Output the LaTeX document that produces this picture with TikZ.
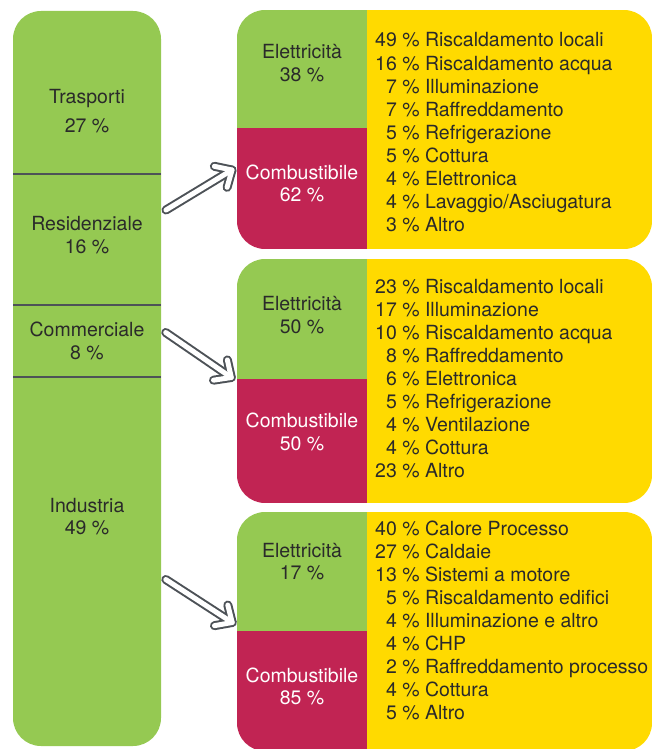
\documentclass[tikz,border=0pt]{standalone}
\usepackage{fontspec}
\setmainfont{TeX Gyre Heros}
\usetikzlibrary{calc}
\definecolor{sgreen}{HTML}{95C952}
\definecolor{sred}{HTML}{C12453}
\definecolor{syellow}{HTML}{FFDA00}
\definecolor{sline}{HTML}{4D5257}
\definecolor{stext}{HTML}{2A2A2A}
\newcommand\drawgroup[3]{%
  \begin{scope}
    \clip[rounded corners=28pt] (237,#1) rectangle (652,#3);
    \fill[sgreen] (237,#1) rectangle (367,#2);
    \fill[sred] (237,#2) rectangle (367,#3);
    \fill[syellow] (367,#1) rectangle (652,#3);
  \end{scope}}
\newcommand\fatarrow[2]{%
  \draw[arrowout] (#1) -- (#2);
  \draw[arrowout] ($(#2)!18pt!43:(#1)$) -- (#2) -- ($(#2)!18pt!-43:(#1)$);
  \draw[arrowin] (#1) -- (#2);
  \draw[arrowin] ($(#2)!18pt!43:(#1)$) -- (#2) -- ($(#2)!18pt!-43:(#1)$);}
\begin{document}
\begin{tikzpicture}[x=1pt,y=-1pt,
  lbl/.style={font=\fontsize{19.5}{23}\selectfont, text=stext, inner sep=0pt, anchor=base},
  wlbl/.style={lbl, text=white},
  item/.style={lbl, anchor=base west},
  arrowout/.style={line width=9pt, draw=sline, line cap=round, line join=round},
  arrowin/.style={line width=5pt, draw=white, line cap=round, line join=round},
  divider/.style={draw=sline, line width=2.5pt}
]
\useasboundingbox (0,0) rectangle (662,749);
% left column
\fill[sgreen, rounded corners=28pt] (13,11) rectangle (161,746);
\draw[divider] (13,174) -- (161,174);
\draw[divider] (13,305) -- (161,305);
\draw[divider] (13,377) -- (161,377);
\node[lbl] (trasp) at (87,103.5) {Trasporti};
\node[lbl] (traspv) at (87,132) {27 \%};
\node[lbl] (resid) at (87,230) {Residenziale};
\node[lbl] (residv) at (87,253) {16 \%};
\node[lbl] (comm) at (87,336) {Commerciale};
\node[lbl] (commv) at (87,359) {8 \%};
\node[lbl] (ind) at (87,512) {Industria};
\node[lbl] (indv) at (87,534.5) {49 \%};
% groups
\drawgroup{10}{128}{249}
\drawgroup{259}{379}{503}
\drawgroup{512}{631}{751}
\node[lbl] (e1) at (302,59) {Elettricità};
\node[lbl] (e1v) at (302,82) {38 \%};
\node[wlbl] (c1) at (302,179) {Combustibile};
\node[wlbl] (c1v) at (302,201.5) {62 \%};
\node[lbl] (e2) at (302,310.5) {Elettricità};
\node[lbl] (e2v) at (302,333) {50 \%};
\node[wlbl] (c2) at (302,427) {Combustibile};
\node[wlbl] (c2v) at (302,450) {50 \%};
\node[lbl] (e3) at (302,557) {Elettricità};
\node[lbl] (e3v) at (302,579.5) {17 \%};
\node[wlbl] (c3) at (302,682.5) {Combustibile};
\node[wlbl] (c3v) at (302,704.5) {85 \%};
% lists
\foreach \t [count=\i] in {49 \% Riscaldamento locali, 16 \% Riscaldamento acqua,
  \hphantom{0}7 \% Illuminazione, \hphantom{0}7 \% Raffreddamento,
  \hphantom{0}5 \% Refrigerazione, \hphantom{0}5 \% Cottura,
  \hphantom{0}4 \% Elettronica, \hphantom{0}4 \% Lavaggio/Asciugatura,
  \hphantom{0}3 \% Altro}
  \node[item] (ra\i) at (375,{47+23.1*(\i-1)}) {\t};
\foreach \t [count=\i] in {23 \% Riscaldamento locali, 17 \% Illuminazione,
  10 \% Riscaldamento acqua, \hphantom{0}8 \% Raffreddamento,
  \hphantom{0}6 \% Elettronica, \hphantom{0}5 \% Refrigerazione,
  \hphantom{0}4 \% Ventilazione, \hphantom{0}4 \% Cottura,
  23 \% Altro}
  \node[item] (rb\i) at (375,{293+23*(\i-1)}) {\t};
\foreach \t [count=\i] in {40 \% Calore Processo, 27 \% Caldaie,
  13 \% Sistemi a motore, \hphantom{0}5 \% Riscaldamento edifici,
  \hphantom{0}4 \% Illuminazione e altro, \hphantom{0}4 \% CHP,
  \hphantom{0}2 \% Raffreddamento processo, \hphantom{0}4 \% Cottura,
  \hphantom{0}5 \% Altro}
  \node[item] (rc\i) at (375,{535+23*(\i-1)}) {\t};
% arrows
\coordinate (a1s) at (166,210); \coordinate (a1t) at (232,170);
\coordinate (a2s) at (165.7,332.5); \coordinate (a2t) at (231.3,377.5);
\coordinate (a3s) at (165.8,579.5); \coordinate (a3t) at (232.2,622.5);
\fatarrow{a1s}{a1t}
\fatarrow{a2s}{a2t}
\fatarrow{a3s}{a3t}
\end{tikzpicture}
\end{document}
